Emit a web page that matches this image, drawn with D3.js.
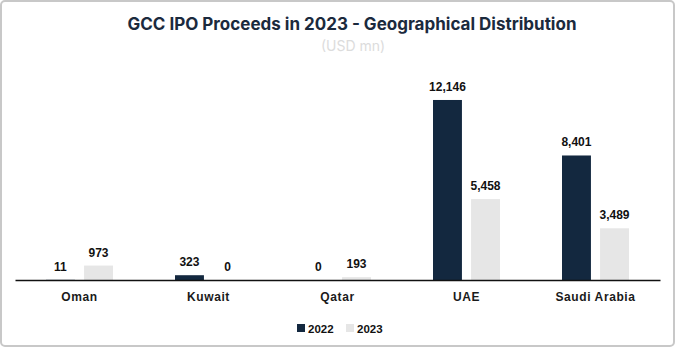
<!DOCTYPE html>
<html><head><meta charset="utf-8">
<script src="https://cdn.jsdelivr.net/npm/d3@7"></script>
<style>body{margin:0;background:#fff}svg{display:block}</style>
</head><body>
<svg id="c" width="675" height="347"></svg>
<script>
const categories = ["Oman", "Kuwait", "Qatar", "UAE", "Saudi Arabia"];
const seriesNames = ["2022", "2023"];
const values2022 = [11, 323, 0, 12146, 8401];
const values2023 = [973, 0, 193, 5458, 3489];
const colors = ["#13283f", "#e6e6e6"];

const svg = d3.select("#c");
const W = 675, H = 347;
svg.append("rect").attr("x",1).attr("y",1).attr("width",W-2).attr("height",H-2)
  .attr("rx",4).attr("fill","#fff").attr("stroke","#c8c8c8").attr("stroke-width",2);

svg.append("text").attr("x",352).attr("y",30).attr("text-anchor","middle")
  .attr("font-family","Inter, 'Open Sans', sans-serif").attr("font-weight",700)
  .attr("font-size",17).attr("fill","#1b2a3d")
  .text("GCC IPO Proceeds in 2023 - Geographical Distribution");
svg.append("text").attr("x",353).attr("y",51).attr("text-anchor","middle")
  .attr("font-family","Inter, 'Open Sans', sans-serif")
  .attr("font-size",14).attr("fill","#dcdcdc").text("(USD mn)");

const x0 = d3.scaleBand().domain(categories).range([15, 660]).paddingInner(0).paddingOuter(0);
const x1 = d3.scaleBand().domain(seriesNames).range([x0.bandwidth()/2 - 33.5, x0.bandwidth()/2 + 33.5]).paddingInner(0.24);
const y = d3.scaleLinear().domain([0, 14000]).range([280, 72.5]);

const data = categories.map((c,i)=>({cat:c, vals:[values2022[i], values2023[i]]}));
const g = svg.append("g");
const groups = g.selectAll("g.cat").data(data).join("g")
  .attr("transform", d=>`translate(${x0(d.cat)},0)`);
groups.selectAll("rect").data(d=>d.vals.map((v,j)=>({s:seriesNames[j], v, j})))
  .join("rect")
  .attr("x", d=>x1(d.s)).attr("width", x1.bandwidth())
  .attr("y", d=>y(d.v)).attr("height", d=>y(0)-y(d.v))
  .attr("fill", d=>colors[d.j]);
groups.selectAll("text.v").data(d=>d.vals.map((v,j)=>({s:seriesNames[j], v, j})))
  .join("text").attr("class","v")
  .attr("x", d=>x1(d.s)+x1.bandwidth()/2).attr("y", d=>y(d.v)-9)
  .attr("text-anchor","middle").attr("font-family","'Liberation Sans', Arial, sans-serif")
  .attr("font-weight",700).attr("font-size",12).attr("fill","#111")
  .text(d=>d3.format(",")(d.v));

const xAxis = d3.axisBottom(x0).tickSize(0).tickPadding(12);
const ax = svg.append("g").attr("transform","translate(0,280)").call(xAxis);
ax.select(".domain").attr("stroke","#111").attr("stroke-width",1.3);
ax.selectAll("text").attr("font-family","'Liberation Sans', Arial, sans-serif")
  .attr("font-weight",700).attr("font-size",12).attr("fill","#1a1a1a")
  .attr("letter-spacing","0.6px");

const leg = svg.append("g").attr("transform","translate(297,329)");
const items = leg.selectAll("g").data(seriesNames).join("g")
  .attr("transform",(d,i)=>`translate(${i*49},0)`);
items.append("rect").attr("x",0).attr("y",-5).attr("width",8).attr("height",8)
  .attr("fill",(d,i)=>colors[i]);
items.append("text").attr("x",11).attr("y",4)
  .attr("font-family","'Liberation Sans', Arial, sans-serif").attr("font-weight",700)
  .attr("font-size",11.5).attr("fill","#111").text(d=>d);
</script>
</body></html>
